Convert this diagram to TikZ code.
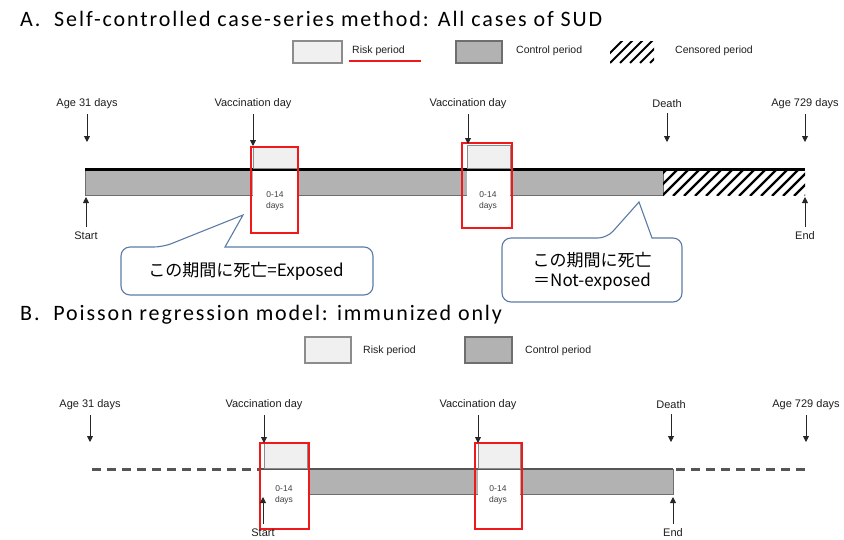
\documentclass[tikz,border=0pt]{standalone}
\usepackage{fontspec}
\setmainfont{Liberation Sans}
\newfontfamily\titlefont[LetterSpace=8.6]{Carlito}
\newfontfamily\jpfont{Noto Sans CJK JP}
\usetikzlibrary{arrows.meta}
\definecolor{riskfill}{HTML}{F0F0F0}
\definecolor{riskdraw}{HTML}{8C8C8C}
\definecolor{ctrlfill}{HTML}{B2B2B2}
\definecolor{ctrldraw}{HTML}{6E6E6E}
\definecolor{barB}{HTML}{555555}
\definecolor{redbox}{HTML}{F01818}
\definecolor{callblue}{HTML}{5A7BA5}
\definecolor{labtxt}{HTML}{1E1E1E}
\tikzset{
  titletext/.style={anchor=base west, inner sep=0pt, font=\titlefont\fontsize{22}{24}\selectfont},
  lab/.style={inner sep=0pt, text=labtxt, font=\fontsize{11}{13}\selectfont},
  legtext/.style={anchor=west, inner sep=0pt, text=labtxt, font=\fontsize{10.5}{12}\selectfont},
  daytext/.style={inner sep=0pt, align=center, text=black!75, font=\fontsize{8.5}{11}\selectfont},
  pointer/.style={-{Triangle[length=6pt,width=6pt]}, line width=0.9pt, black!85},
  riskbox/.style={fill=riskfill, draw=riskdraw, line width=0.8pt},
  legrisk/.style={fill=riskfill, draw=riskdraw, line width=1.4pt},
  legctrl/.style={fill=ctrlfill, draw=ctrldraw, line width=1.4pt},
  redrect/.style={draw=redbox, line width=1.8pt},
  hatchline/.style={line width=2.4pt, black},
  callout/.style={draw=callblue, line width=1.1pt, fill=white},
  calltext/.style={inner sep=0pt, align=center, font=\jpfont\fontsize{17}{20}\selectfont},
  dashB/.style={barB, line width=3pt, dash pattern=on 9pt off 6pt},
}
\begin{document}
\begin{tikzpicture}[x=1pt,y=-1pt]
\useasboundingbox[fill=white] (0,0) rectangle (844,539);

% ================= Section A =================
\node[titletext] (titleA) at (20,26) {A.\ \ Self-controlled case-series method: All cases of SUD};

% legend A
\path[legrisk] (293,41) rectangle (342,63);
\node[legtext] (legArisk) at (352,51) {Risk period};
\draw[redbox, line width=1.5pt] (349,61) -- (421,61);
\path[legctrl] (456,41) rectangle (502,63);
\node[legtext] (legActrl) at (516,51) {Control period};
\begin{scope}
  \clip (610,41) rectangle (654,63);
  \foreach \i in {0,...,6} \draw[hatchline, line width=2pt] (600+\i*10,63) -- ++(24,-24);
\end{scope}
\node[legtext] (legAcens) at (675,51) {Censored period};

% bar A
\fill[ctrlfill] (85,170) rectangle (253,195);
\fill[ctrlfill] (297,170) rectangle (467,195);
\fill[ctrlfill] (510,170) rectangle (663,195);
\draw[ctrldraw, line width=0.8pt] (85,170) -- (85,195) -- (253,195);
\draw[ctrldraw, line width=0.8pt] (297,195) -- (467,195);
\draw[ctrldraw, line width=0.8pt] (510,195) -- (663,195) -- (663,170);
\begin{scope}
  \clip (663,170) rectangle (805,195);
  \foreach \i in {0,...,15} \draw[hatchline] (640+\i*11,196) -- ++(28,-28);
\end{scope}
\draw[black, line width=2.6pt] (85,169.5) -- (805,169.5);

% risk periods A
\path[riskbox] (253,147) rectangle (297,168.5);
\path[riskbox] (467,145) rectangle (510,168.5);
\node[daytext] (dayA1) at (275,201) {0-14\\days};
\node[daytext] (dayA2) at (488,201) {0-14\\days};
\draw[redrect] (251,147) rectangle (298,233);
\draw[redrect] (462,143) rectangle (512,228);

% labels and arrows A
\node[lab] (ageA1) at (87,104) {Age 31 days};
\node[lab] (vacA1) at (253,104) {Vaccination day};
\node[lab] (vacA2) at (468,104) {Vaccination day};
\node[lab] (deathA) at (667,104) {Death};
\node[lab] (ageA2) at (805,104) {Age 729 days};
\coordinate (tA1) at (87,142);
\coordinate (tA2) at (253,146);
\coordinate (tA3) at (468,144);
\coordinate (tA4) at (667,142);
\coordinate (tA5) at (805,142);
\draw[pointer] (ageA1.south) ++(0,5) -- (tA1);
\draw[pointer] (vacA1.south) ++(0,5) -- (tA2);
\draw[pointer] (vacA2.south) ++(0,5) -- (tA3);
\draw[pointer] (deathA.south) ++(0,5) -- (tA4);
\draw[pointer] (ageA2.south) ++(0,5) -- (tA5);
\node[lab] (startA) at (86,236) {Start};
\node[lab] (endA) at (805,236) {End};
\coordinate (sA) at (86,197);
\coordinate (eA) at (805,197);
\draw[pointer] (startA.north) ++(0,-5) -- (sA);
\draw[pointer] (endA.north) ++(0,-5) -- (eA);

% callouts
\draw[callout, rounded corners=9pt] (163,247) [sharp corners] -- (243,215) -- (225,247) [rounded corners=9pt] -- (373,247) -- (373,295) -- (121,295) -- (121,247) -- cycle;
\node[calltext] (callA1) at (246,271) {この期間に死亡=Exposed};
\draw[callout, rounded corners=9pt] (607,238) [sharp corners] -- (639,202) -- (652,238) [rounded corners=9pt] -- (682,238) -- (682,302) -- (502,302) -- (502,238) -- cycle;
\node[calltext] (callA2) at (592,271) {この期間に死亡\\＝Not-exposed};

% ================= Section B =================
\node[titletext] (titleB) at (20,320) {B.\ \ Poisson regression model: immunized only};

% legend B
\path[legrisk] (305,337) rectangle (351,363);
\node[legtext] (legBrisk) at (363,351) {Risk period};
\path[legctrl] (465,337) rectangle (512,363);
\node[legtext] (legBctrl) at (525,351) {Control period};

% bar B
\fill[ctrlfill] (309,469) rectangle (478,494);
\fill[ctrlfill] (520,469) rectangle (673,494);
\draw[ctrldraw, line width=0.8pt] (309,494) -- (478,494);
\draw[ctrldraw, line width=0.8pt] (520,494) -- (673,494) -- (673,469);
\draw[dashB] (92,469) -- (260,469);
\draw[dashB] (676,469) -- (810,469);
\draw[barB, line width=2.6pt] (260,469) -- (673,469);

% risk periods B
\path[riskbox] (264,443) rectangle (307,468);
\path[riskbox] (478,443) rectangle (520,468);
\node[daytext] (dayB1) at (284,495) {0-14\\days};
\node[daytext] (dayB2) at (498,495) {0-14\\days};
\draw[redrect] (260,443) rectangle (309,529);
\draw[redrect] (475,443) rectangle (522,529);

% labels and arrows B
\node[lab] (ageB1) at (90,405) {Age 31 days};
\node[lab] (vacB1) at (264,405) {Vaccination day};
\node[lab] (vacB2) at (478,405) {Vaccination day};
\node[lab] (deathB) at (671,405) {Death};
\node[lab] (ageB2) at (806,405) {Age 729 days};
\coordinate (tB1) at (90,442);
\coordinate (tB2) at (264,443);
\coordinate (tB3) at (478,443);
\coordinate (tB4) at (671,442);
\coordinate (tB5) at (806,442);
\draw[pointer] (ageB1.south) ++(0,5) -- (tB1);
\draw[pointer] (vacB1.south) ++(0,5) -- (tB2);
\draw[pointer] (vacB2.south) ++(0,5) -- (tB3);
\draw[pointer] (deathB.south) ++(0,5) -- (tB4);
\draw[pointer] (ageB2.south) ++(0,5) -- (tB5);
\node[lab] (startB) at (263,533) {Start};
\node[lab] (endB) at (673,533) {End};
\coordinate (sB) at (263,497);
\coordinate (eB) at (673,497);
\draw[pointer] (startB.north) ++(0,-5) -- (sB);
\draw[pointer] (endB.north) ++(0,-5) -- (eB);
\end{tikzpicture}
\end{document}
